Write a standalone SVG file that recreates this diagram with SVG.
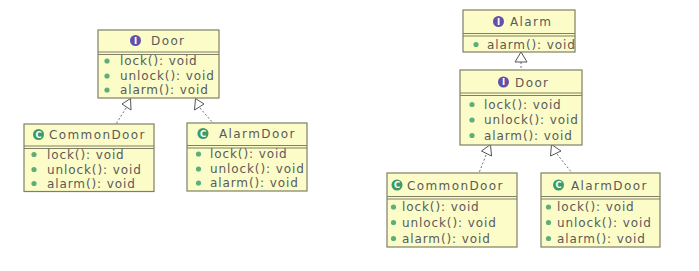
<svg xmlns="http://www.w3.org/2000/svg" width="699" height="271" viewBox="0 0 699 271">
<defs>
<style>
.box{fill:#FCFCC9;stroke:#7F7F66;stroke-width:1.2}
.sep{stroke:#7F7F66;stroke-width:1;fill:none}
.t{font-family:"DejaVu Sans",Verdana,sans-serif;font-size:12px;fill:#5A5A5A;letter-spacing:1.4px}
.m{font-family:"DejaVu Sans",Verdana,sans-serif;font-size:12px;fill:#5A5A5A;letter-spacing:0.9px}
.dot{fill:#5FAE7A}
.ii{fill:#6450A8}
.ic{fill:#3E9A64}
.il{font-family:"DejaVu Sans",Verdana,sans-serif;font-size:8.5px;font-weight:bold;fill:#ffffff;text-anchor:middle}
.dash{stroke:#707070;stroke-width:1;stroke-dasharray:2,2;fill:none}
.head{fill:#ffffff;stroke:#555555;stroke-width:1}
</style>
</defs>
<rect width="699" height="271" fill="#ffffff"/>

<g id="connectors">
<line class="dash" x1="126" y1="108" x2="116" y2="124"/>
<polygon class="head" points="130.5,98.5 122,104 131,110"/>
<line class="dash" x1="200" y1="108" x2="213" y2="123"/>
<polygon class="head" points="195.5,98.5 194.5,110 204,104"/>
<line class="dash" x1="521" y1="62" x2="521" y2="70"/>
<polygon class="head" points="521,52 515,62 527,62"/>
<line class="dash" x1="486" y1="155" x2="479" y2="173"/>
<polygon class="head" points="490.5,144.5 481.5,151 491.5,156"/>
<line class="dash" x1="557" y1="154" x2="572" y2="173"/>
<polygon class="head" points="551.5,144.5 550.5,156 561,151"/>
</g>

<g id="left-door">
<rect class="box" x="98" y="30" width="121" height="68"/>
<path class="sep" d="M98,52H219M98,54.5H219"/>
<circle class="ii" cx="135.5" cy="40.5" r="5.5"/><text class="il" x="135.5" y="43.5">I</text>
<text class="t" x="151" y="45">Door</text>
<circle class="dot" cx="107" cy="61" r="2.6"/><text class="m" x="120" y="65">lock(): void</text>
<circle class="dot" cx="107" cy="76" r="2.6"/><text class="m" x="120" y="80">unlock(): void</text>
<circle class="dot" cx="107" cy="90" r="2.6"/><text class="m" x="120" y="94">alarm(): void</text>
</g>

<g id="left-commondoor">
<rect class="box" x="24" y="124" width="130" height="67.5"/>
<path class="sep" d="M24,146H154M24,148.5H154"/>
<circle class="ic" cx="38.5" cy="134.5" r="5.5"/><text class="il" x="38.5" y="137.5">C</text>
<text class="t" x="49" y="139">CommonDoor</text>
<circle class="dot" cx="34" cy="154.5" r="2.6"/><text class="m" x="47" y="158.5">lock(): void</text>
<circle class="dot" cx="34" cy="169.5" r="2.6"/><text class="m" x="47" y="173.5">unlock(): void</text>
<circle class="dot" cx="34" cy="183.5" r="2.6"/><text class="m" x="47" y="187.5">alarm(): void</text>
</g>

<g id="left-alarmdoor">
<rect class="box" x="187" y="123" width="120" height="68"/>
<path class="sep" d="M187,145.5H307M187,148H307"/>
<circle class="ic" cx="203" cy="133.5" r="5.5"/><text class="il" x="203" y="136.5">C</text>
<text class="t" x="219" y="138">AlarmDoor</text>
<circle class="dot" cx="198.5" cy="154" r="2.6"/><text class="m" x="210" y="158">lock(): void</text>
<circle class="dot" cx="198.5" cy="169" r="2.6"/><text class="m" x="210" y="173">unlock(): void</text>
<circle class="dot" cx="198.5" cy="183" r="2.6"/><text class="m" x="210" y="187">alarm(): void</text>
</g>

<g id="right-alarm">
<rect class="box" x="463" y="10" width="112" height="42"/>
<path class="sep" d="M463,33.5H575M463,36H575"/>
<circle class="ii" cx="498.5" cy="21.5" r="5.5"/><text class="il" x="498.5" y="24.5">I</text>
<text class="t" x="510" y="26">Alarm</text>
<circle class="dot" cx="476" cy="44.5" r="2.6"/><text class="m" x="487" y="48.5">alarm(): void</text>
</g>

<g id="right-door">
<rect class="box" x="460" y="70" width="122" height="75"/>
<path class="sep" d="M460,93H582M460,95.5H582"/>
<circle class="ii" cx="503.5" cy="82" r="5.5"/><text class="il" x="503.5" y="85">I</text>
<text class="t" x="515" y="86.5">Door</text>
<circle class="dot" cx="472" cy="104.5" r="2.6"/><text class="m" x="484" y="108.5">lock(): void</text>
<circle class="dot" cx="472" cy="120" r="2.6"/><text class="m" x="484" y="124">unlock(): void</text>
<circle class="dot" cx="472" cy="135.5" r="2.6"/><text class="m" x="484" y="139.5">alarm(): void</text>
</g>

<g id="right-commondoor">
<rect class="box" x="387" y="173" width="130" height="74"/>
<path class="sep" d="M387,196.5H517M387,199H517"/>
<circle class="ic" cx="397" cy="185" r="5.5"/><text class="il" x="397" y="188">C</text>
<text class="t" x="407" y="189.5">CommonDoor</text>
<circle class="dot" cx="393.5" cy="207" r="2.6"/><text class="m" x="402" y="211">lock(): void</text>
<circle class="dot" cx="393.5" cy="222.5" r="2.6"/><text class="m" x="402" y="226.5">unlock(): void</text>
<circle class="dot" cx="393.5" cy="238.5" r="2.6"/><text class="m" x="402" y="242.5">alarm(): void</text>
</g>

<g id="right-alarmdoor">
<rect class="box" x="541" y="173" width="119" height="74"/>
<path class="sep" d="M541,196.5H660M541,199H660"/>
<circle class="ic" cx="558.5" cy="185" r="5.5"/><text class="il" x="558.5" y="188">C</text>
<text class="t" x="571" y="189.5">AlarmDoor</text>
<circle class="dot" cx="548.5" cy="207" r="2.6"/><text class="m" x="557" y="211">lock(): void</text>
<circle class="dot" cx="548.5" cy="222.5" r="2.6"/><text class="m" x="557" y="226.5">unlock(): void</text>
<circle class="dot" cx="548.5" cy="238.5" r="2.6"/><text class="m" x="557" y="242.5">alarm(): void</text>
</g>
</svg>
